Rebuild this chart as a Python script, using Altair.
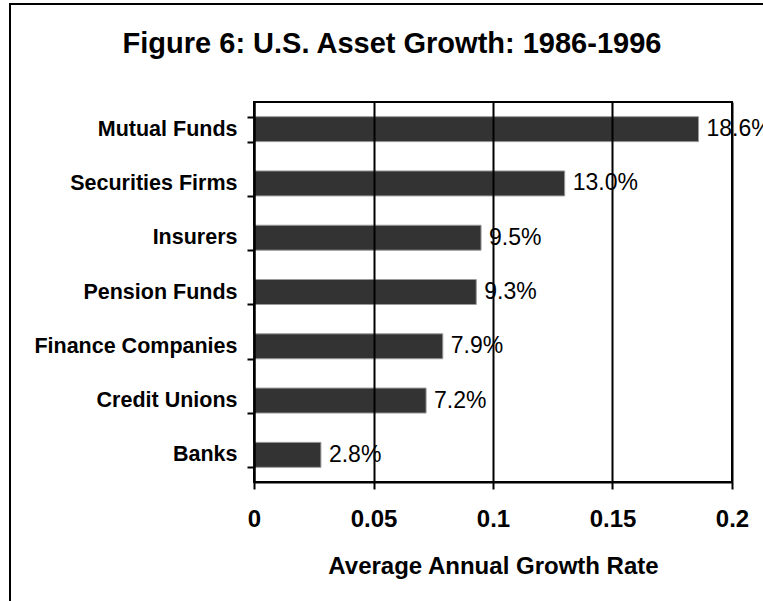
import altair as alt
import pandas as pd

categories = ["Mutual Funds", "Securities Firms", "Insurers", "Pension Funds",
              "Finance Companies", "Credit Unions", "Banks"]
growth = [0.186, 0.130, 0.095, 0.093, 0.079, 0.072, 0.028]
x_ticks = [0, 0.05, 0.1, 0.15, 0.2]
title_text = "Figure 6: U.S. Asset Growth: 1986-1996"
x_title = "Average Annual Growth Rate"

df = pd.DataFrame({"category": categories, "growth": growth})
FONT = "Liberation Sans"

y_enc = alt.Y(
    "category:N", sort=categories, title=None,
    scale=alt.Scale(paddingInner=0.54, paddingOuter=0.27),
    axis=alt.Axis(tickBand="extent", labelFont=FONT, labelFontSize=21.5,
                  labelFontWeight="bold", labelColor="black", tickSize=7,
                  tickWidth=2, tickColor="black", domainColor="black",
                  domainWidth=2, labelPadding=10, labelLimit=400, grid=False,
                  zindex=1),
)
x_enc = alt.X(
    "growth:Q", scale=alt.Scale(domain=[0, 0.2], nice=False), title=x_title,
    axis=alt.Axis(values=x_ticks, format=".2~f", grid=True, gridColor="black",
                  gridWidth=2, gridOpacity=1, tickSize=7, tickWidth=2,
                  tickColor="black", domainColor="black", domainWidth=2,
                  labelFont=FONT, labelFontSize=24, labelFontWeight="bold",
                  labelColor="black", labelPadding=18, labelFlush=False,
                  titleFont=FONT, titleFontSize=24, titleFontWeight="bold",
                  titleColor="black", titlePadding=23, zindex=1),
)

bars = alt.Chart(df).mark_bar(color="#333333", stroke="#9a9a9a", strokeWidth=1).encode(
    x=x_enc, y=y_enc
)
labels = alt.Chart(df).mark_text(
    align="left", baseline="middle", dx=8, font=FONT, fontSize=23, color="black"
).encode(
    x="growth:Q",
    y=alt.Y("category:N", sort=categories),
    text=alt.Text("growth:Q", format=".1%"),
)

one = pd.DataFrame({"k": [0]})
frame_left = alt.Chart(one).mark_rule(color="black", strokeWidth=2).encode(
    x=alt.value(-244), y=alt.value(-98), y2=alt.value(560)
)
frame_top = alt.Chart(one).mark_rule(color="black", strokeWidth=2).encode(
    y=alt.value(-98), x=alt.value(-245), x2=alt.value(560)
)

chart = alt.layer(frame_left, frame_top, bars, labels).properties(
    width=478, height=380,
    autosize=alt.AutoSizeParams(type="none"),
    padding={"left": 254, "top": 102, "right": 31, "bottom": 119},
    title=alt.TitleParams(title_text, font=FONT, fontSize=29, fontWeight="bold",
                          color="black", anchor="middle", frame="group",
                          dx=-101, baseline="alphabetic", offset=-79),
).configure_view(stroke="black", strokeWidth=2)

chart.save("out.html", embed_options={"renderer": "svg", "actions": False})
